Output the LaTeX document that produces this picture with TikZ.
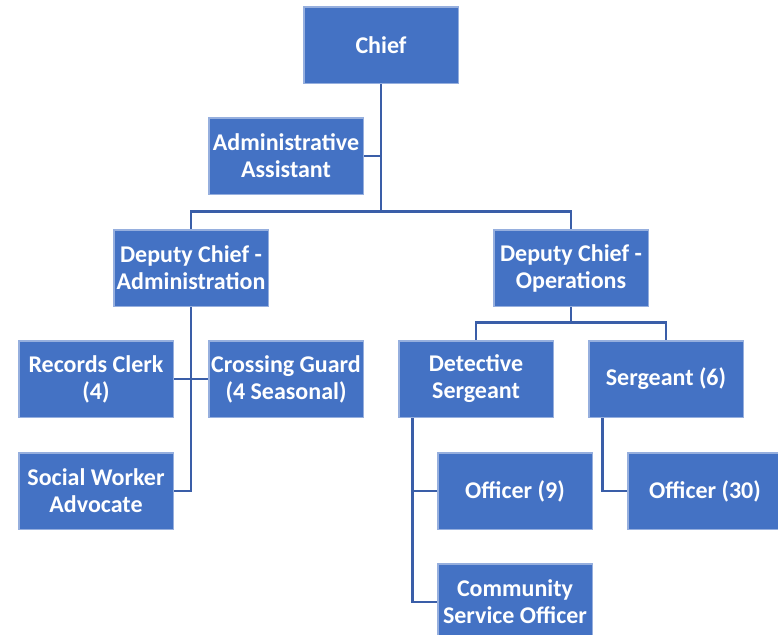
\documentclass[tikz,border=0pt]{standalone}
\usepackage{fontspec}
\setmainfont{Carlito}
\usepackage{tikz}
\usetikzlibrary{positioning, calc}
\definecolor{boxblue}{RGB}{68,114,196}
\definecolor{boxedge}{RGB}{150,175,222}
\definecolor{linkblue}{RGB}{58,94,168}
\tikzset{
  post/.style={rectangle, draw=boxedge, fill=boxblue, text=white,
    minimum width=154pt, minimum height=76pt, align=center,
    font=\fontsize{24}{27}\selectfont\bfseries, line width=0.6pt, inner sep=1pt},
  link/.style={line width=2.8pt, color=linkblue}
}
\begin{document}
\begin{tikzpicture}[x=1pt, y=-1pt]
  \useasboundingbox (0,0) rectangle (778,634);
  \clip (0,0) rectangle (778,634);
  % top level
  \node[post] (chief) at (381,45) {Chief};
  \node[post] (assist) at (286,156) {Administrative\\Assistant};
  % deputies
  \node[post] (dcadm) at (191,268) {Deputy Chief -\\Administration};
  \node[post] (dcops) at (571,268) {Deputy Chief -\\Operations};
  % administration side
  \node[post] (records) at (96,379) {Records Clerk\\(4)};
  \node[post] (guard) at (286,379) {Crossing Guard\\(4 Seasonal)};
  \node[post] (social) at (96,491) {Social Worker\\Advocate};
  % operations side
  \node[post] (detsgt) at (476,379) {Detective\\Sergeant};
  \node[post] (sgt) at (666,379) {Sergeant (6)};
  \node[post] (off9) at (515,491) {Officer (9)};
  \node[post] (off30) at (705,491) {Officer (30)};
  \node[post] (cso) at (515,602) {Community\\Service Officer};
  % connectors
  \draw[link] (chief.south) -- ++(0,128) -| (dcadm.north);
  \draw[link] (chief.south) -- ++(0,128) -| (dcops.north);
  \draw[link] (assist.east) -| (chief.south);
  \draw[link] (dcadm.south) |- (social.east);
  \draw[link] (records.east) -- (guard.west);
  \draw[link] (dcops.south) -- ++(0,16) -| (detsgt.north);
  \draw[link] (dcops.south) -- ++(0,16) -| (sgt.north);
  \draw[link] ([xshift=14pt]detsgt.south west) |- (off9.west);
  \draw[link] ([xshift=14pt]detsgt.south west) |- (cso.west);
  \draw[link] ([xshift=14pt]sgt.south west) |- (off30.west);
  % redraw box edges above the lines
  \foreach \n in {chief,assist,dcadm,dcops,records,guard,social,detsgt,sgt,off9,off30,cso}
    \draw[boxedge, line width=0.6pt] (\n.north west) rectangle (\n.south east);
\end{tikzpicture}
\end{document}
